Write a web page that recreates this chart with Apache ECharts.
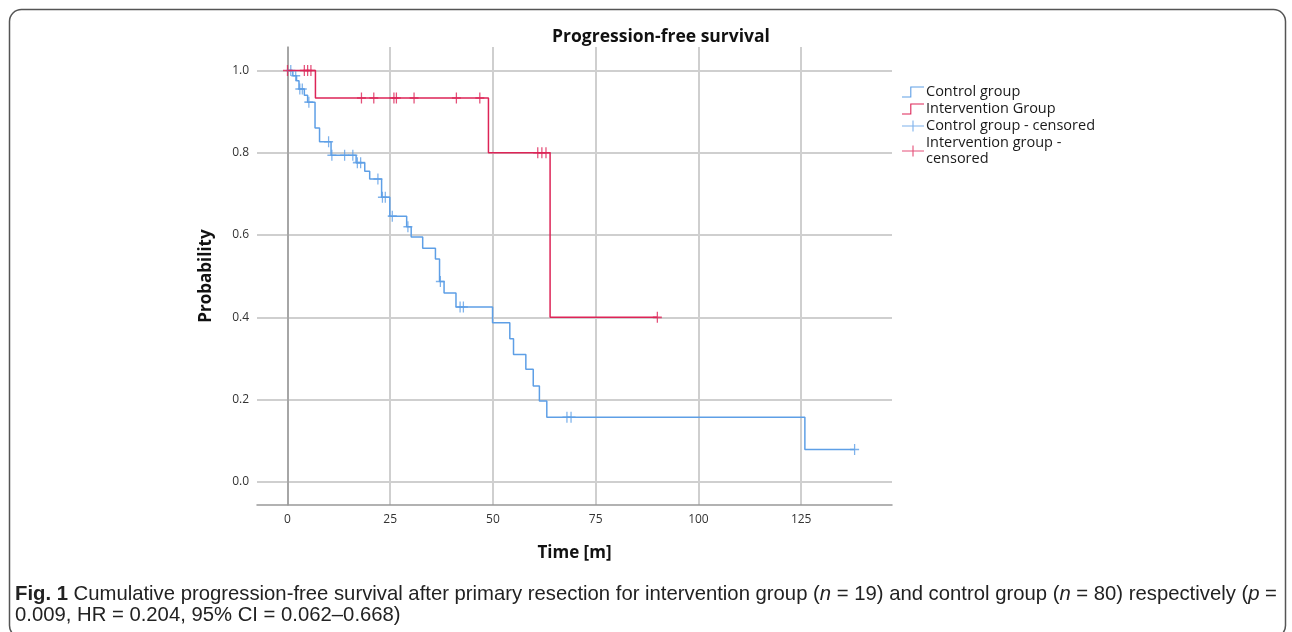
<!DOCTYPE html>
<html>
<head>
<meta charset="utf-8">
<title>Progression-free survival</title>
<script src="https://cdn.jsdelivr.net/npm/echarts@6/dist/echarts.min.js"></script>
<style>
  html, body { margin: 0; padding: 0; background: #fff; }
  #chart { width: 1292px; height: 632px; }
</style>
</head>
<body>
<div id="chart"></div>
<script>
// Kaplan-Meier steps: time of event (months) and survival after it
var controlTime = [0, 1.3, 2.2, 2.8, 4.1, 4.9, 6.7, 7.8, 10.6, 16.7, 18.8, 20.0, 22.9, 24.9, 29.0, 30.1, 32.9, 36.0, 37.0, 38.1, 41.0, 49.9, 54.1, 55.0, 58.0, 59.8, 61.3, 63.1, 125.9, 138];
var controlSurv = [1.0, 0.987, 0.975, 0.955, 0.94, 0.923, 0.86, 0.827, 0.794, 0.776, 0.755, 0.736, 0.692, 0.646, 0.62, 0.595, 0.568, 0.542, 0.487, 0.459, 0.425, 0.387, 0.348, 0.31, 0.274, 0.233, 0.197, 0.157, 0.079, 0.079];
var interventionTime = [0, 6.8, 48.9, 63.9, 90];
var interventionSurv = [1.0, 0.933, 0.8, 0.4, 0.4];

// censored observations (months)
var controlCensored = [0.8, 2.0, 3.0, 3.6, 5.2, 10.0, 10.8, 13.9, 15.9, 17.0, 17.8, 22.0, 23.1, 23.8, 25.5, 29.3, 37.2, 42.0, 42.8, 68.0, 69.0, 138];
var interventionCensored = [0, 4.1, 4.9, 5.7, 18.0, 21.0, 25.9, 26.5, 30.8, 41.1, 46.8, 60.9, 61.9, 62.9, 90];

var xTicks = [0, 25, 50, 75, 100, 125];
var yTicks = [0, 0.2, 0.4, 0.6, 0.8, 1.0];

var blue = '#5e9fe6';
var red = '#dd2457';
var plusPath = 'path://M0,4.3H10V5.7H0Z M4.3,0H5.7V10H4.3Z';
var legendPlus = 'path://M0,5.4H24V6.6H0Z M11.4,0H12.6V12H11.4Z';
var legendStep = 'path://M0,10.8H9V0H24V1.2H10.2V12H0Z';

function pairs(xs, ys) {
    return xs.map(function (x, i) { return [x, ys[i]]; });
}

// survival level of the curve at time t (last step at or before t)
function levelAt(times, surv, t) {
    var s = surv[0];
    for (var i = 0; i < times.length; i++) {
        if (times[i] <= t) s = surv[i];
    }
    return s;
}

function censorPoints(cens, times, surv) {
    return cens.map(function (t) { return [t, levelAt(times, surv, t)]; });
}

var chart = echarts.init(document.getElementById('chart'));
var font = '"Open Sans", "Noto Sans", sans-serif';
var capFont = '"Liberation Sans", sans-serif';

chart.setOption({
    animation: false,
    backgroundColor: '#fff',
    title: {
        text: 'Progression-free survival',
        left: 656,
        top: 23,
        textAlign: 'center',
        textStyle: { fontFamily: font, fontSize: 17.5, fontWeight: 'bold', color: '#111' }
    },
    legend: {
        orient: 'vertical',
        left: 897,
        top: 79,
        itemWidth: 24,
        itemHeight: 11,
        itemGap: 1,
        selectedMode: false,
        itemStyle: { borderWidth: 0 },
        textStyle: { fontFamily: font, fontSize: 14.5, color: '#1a1a1a', lineHeight: 16, padding: [0, 0, 0, -4] },
        data: [
            { name: 'Control group', icon: legendStep },
            { name: 'Intervention Group', icon: legendStep },
            { name: 'Control group - censored', icon: legendPlus },
            { name: 'Intervention group -\ncensored', icon: legendPlus }
        ]
    },
    grid: { left: 257, right: 400, top: 47, bottom: 127 },
    xAxis: {
        type: 'value',
        min: -7.42,
        max: 147.1,
        name: 'Time [m]',
        nameLocation: 'middle',
        nameGap: 40,
        nameTextStyle: { fontFamily: font, fontSize: 17, fontWeight: 'bold', color: '#111' },
        axisLine: { show: true, onZero: false, lineStyle: { color: '#999', width: 1.5 } },
        axisTick: { show: false, customValues: xTicks },
        axisLabel: { customValues: xTicks, margin: 9, fontFamily: font, fontSize: 12, color: '#333' },
        splitLine: { show: true, lineStyle: { color: '#cfcfcf', width: 2 } }
    },
    yAxis: {
        type: 'value',
        min: -0.056,
        max: 1.057,
        name: 'Probability',
        nameLocation: 'middle',
        nameGap: 42,
        nameTextStyle: { fontFamily: font, fontSize: 17, fontWeight: 'bold', color: '#111' },
        axisLine: { show: true, lineStyle: { color: '#999', width: 1.5 } },
        axisTick: { show: false, customValues: yTicks },
        axisLabel: {
            customValues: yTicks, margin: 8, fontFamily: font, fontSize: 12, color: '#333',
            formatter: function (v) { return v.toFixed(1); }
        },
        splitLine: { show: true, lineStyle: { color: '#cfcfcf', width: 2 } }
    },
    series: [
        {
            name: 'Control group',
            type: 'line',
            step: 'end',
            symbol: 'none',
            color: blue,
            lineStyle: { color: blue, width: 1.5 },
            data: pairs(controlTime, controlSurv)
        },
        {
            name: 'Intervention Group',
            type: 'line',
            step: 'end',
            symbol: 'none',
            color: red,
            lineStyle: { color: red, width: 1.5 },
            data: pairs(interventionTime, interventionSurv)
        },
        {
            name: 'Control group - censored',
            type: 'scatter',
            symbol: plusPath,
            symbolSize: [9, 11],
            color: blue,
            itemStyle: { color: blue },
            data: censorPoints(controlCensored, controlTime, controlSurv)
        },
        {
            name: 'Intervention group -\ncensored',
            type: 'scatter',
            symbol: plusPath,
            symbolSize: [9, 11],
            color: red,
            itemStyle: { color: red },
            data: censorPoints(interventionCensored, interventionTime, interventionSurv)
        }
    ],
    graphic: [
        {
            type: 'rect',
            left: 7,
            top: 7,
            shape: { width: 1276, height: 628, r: 12 },
            style: { fill: 'none', stroke: '#555', lineWidth: 1.5 },
            silent: true
        },
        {
            type: 'text',
            left: 15,
            top: 584,
            style: {
                text: '{b|Fig. 1} Cumulative progression-free survival after primary resection for intervention group ({i|n} = 19) and control group ({i|n} = 80) respectively ({i|p} =',
                fontFamily: capFont,
                fontSize: 20.3,
                fill: '#222',
                rich: {
                    b: { fontFamily: capFont, fontSize: 20.3, fontWeight: 'bold', fill: '#222' },
                    i: { fontFamily: capFont, fontSize: 20.3, fontStyle: 'italic', fill: '#222' }
                }
            }
        },
        {
            type: 'text',
            left: 15,
            top: 605,
            style: {
                text: '0.009, HR = 0.204, 95% CI = 0.062–0.668)',
                fontFamily: capFont,
                fontSize: 20.3,
                fill: '#222'
            }
        }
    ]
});
</script>
</body>
</html>
